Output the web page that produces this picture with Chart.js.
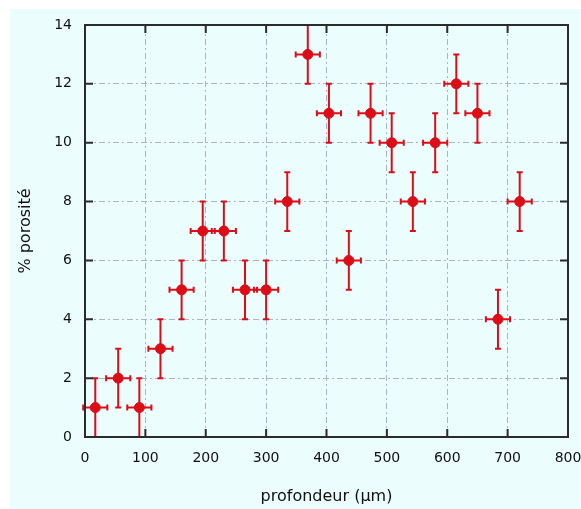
<!DOCTYPE html>
<html>
<head>
<meta charset="utf-8">
<script src="https://cdn.jsdelivr.net/npm/chart.js@4"></script>
<style>
  html, body { margin: 0; padding: 0; background: #fff; }
  #wrap { position: absolute; left: 10px; top: 9px; width: 571px; height: 500px; background: #ebfdfd; }
</style>
</head>
<body>
<div id="wrap"><canvas id="c" width="571" height="500"></canvas></div>
<script>
// profondeur (µm) / % porosité, with error bars
const depth    = [17, 55, 90, 125, 160, 195, 230, 265, 300, 335, 369, 404, 437, 473, 508, 543, 580, 615, 650, 684, 720];
const porosity = [1, 2, 1, 3, 5, 7, 7, 5, 5, 8, 13, 11, 6, 11, 10, 8, 10, 12, 11, 4, 8];
const depthErr = [20, 20, 20, 20, 20, 20, 20, 20, 20, 20, 20, 20, 20, 20, 20, 20, 20, 20, 20, 20, 20];
const porErr   = [1, 1, 1, 1, 1, 1, 1, 1, 1, 1, 1, 1, 1, 1, 1, 1, 1, 1, 1, 1, 1];
const xTicks = [0, 100, 200, 300, 400, 500, 600, 700, 800];
const yTicks = [0, 2, 4, 6, 8, 10, 12, 14];

const RED = '#dc0d17';
const FONT = "'DejaVu Sans', Verdana, sans-serif";

const errorBars = {
  id: 'errorBars',
  beforeDatasetsDraw(chart) {
    const { ctx, scales: { x, y } } = chart;
    ctx.save();
    ctx.strokeStyle = RED;
    ctx.lineWidth = 2;
    const cap = 3;
    depth.forEach((d, i) => {
      const px = x.getPixelForValue(d), py = y.getPixelForValue(porosity[i]);
      const x0 = x.getPixelForValue(d - depthErr[i]), x1 = x.getPixelForValue(d + depthErr[i]);
      const y0 = y.getPixelForValue(porosity[i] - porErr[i]), y1 = y.getPixelForValue(porosity[i] + porErr[i]);
      ctx.beginPath();
      ctx.moveTo(x0, py); ctx.lineTo(x1, py);
      ctx.moveTo(x0, py - cap); ctx.lineTo(x0, py + cap);
      ctx.moveTo(x1, py - cap); ctx.lineTo(x1, py + cap);
      ctx.moveTo(px, y0); ctx.lineTo(px, y1);
      ctx.moveTo(px - cap, y0); ctx.lineTo(px + cap, y0);
      ctx.moveTo(px - cap, y1); ctx.lineTo(px + cap, y1);
      ctx.stroke();
    });
    ctx.restore();
  }
};

// box frame with inward ticks on all four sides
const frame = {
  id: 'frame',
  afterDatasetsDraw(chart) {
    const { ctx, chartArea: a, scales: { x, y } } = chart;
    const tl = 8;
    ctx.save();
    ctx.strokeStyle = '#2b2b2b';
    ctx.lineWidth = 2;
    ctx.strokeRect(a.left, a.top, a.right - a.left, a.bottom - a.top);
    ctx.beginPath();
    xTicks.forEach(v => {
      const p = x.getPixelForValue(v);
      ctx.moveTo(p, a.bottom); ctx.lineTo(p, a.bottom - tl);
      ctx.moveTo(p, a.top); ctx.lineTo(p, a.top + tl);
    });
    yTicks.forEach(v => {
      const p = y.getPixelForValue(v);
      ctx.moveTo(a.left, p); ctx.lineTo(a.left + tl, p);
      ctx.moveTo(a.right, p); ctx.lineTo(a.right - tl, p);
    });
    ctx.stroke();
    ctx.restore();
  }
};

const gridOpts = { color: '#a6b4cc', lineWidth: 1, drawTicks: false };

new Chart(document.getElementById('c').getContext('2d'), {
  type: 'scatter',
  data: {
    datasets: [{
      data: depth.map((d, i) => ({ x: d, y: porosity[i] })),
      backgroundColor: RED,
      borderColor: RED,
      pointRadius: 5,
      pointHoverRadius: 5
    }]
  },
  options: {
    responsive: false,
    animation: false,
    layout: { padding: { top: 16, right: 13, left: 0, bottom: 0 } },
    plugins: { legend: { display: false }, tooltip: { enabled: false } },
    scales: {
      x: {
        type: 'linear', min: 0, max: 800,
        afterBuildTicks: s => { s.ticks = xTicks.map(v => ({ value: v })); },
        afterFit: s => { s.height = 72; s.paddingLeft = 0; s.paddingRight = 0; },
        grid: gridOpts,
        border: { display: false, dash: [6, 3, 2, 3] },
        ticks: { padding: 13, color: '#111', font: { family: FONT, size: 14 } },
        title: { display: true, text: 'profondeur (µm)', color: '#111', font: { family: FONT, size: 16 }, padding: { top: 0, bottom: 3 } }
      },
      y: {
        type: 'linear', min: 0, max: 14,
        afterBuildTicks: s => { s.ticks = yTicks.map(v => ({ value: v })); },
        afterFit: s => { s.width = 75; s.paddingTop = 0; s.paddingBottom = 0; },
        grid: gridOpts,
        border: { display: false, dash: [6, 3, 2, 3] },
        ticks: { padding: 13, color: '#111', font: { family: FONT, size: 14 } },
        title: { display: true, text: '% porosité', color: '#111', font: { family: FONT, size: 16 }, padding: { top: 6, bottom: 0 } }
      }
    }
  },
  plugins: [errorBars, frame]
});
</script>
</body>
</html>
